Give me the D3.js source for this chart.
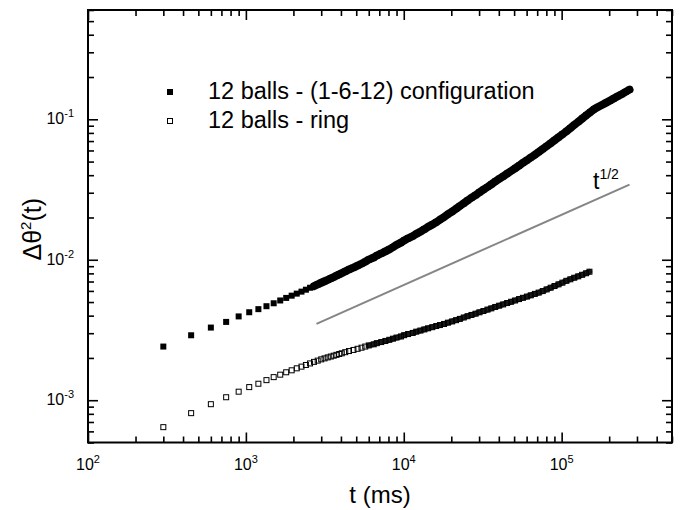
<!DOCTYPE html>
<html>
<head>
<meta charset="utf-8">
<script src="https://cdn.jsdelivr.net/npm/d3@7"></script>
<style>
  body { margin: 0; background: #fff; }
  text { font-family: "Liberation Sans", Arial, Helvetica, sans-serif; fill: #000; }
</style>
</head>
<body>
<div id="chart"></div>
<script>
// 12 balls - (1-6-12) configuration (filled squares)
const tFilled = [300, 450, 600, 750, 900, 1050, 1200, 1350, 1500, 1650,
  1800, 1950, 2100, 2250, 2400, 2550, 2700, 2850, 3000, 3150, 3300, 3450, 3600, 3750, 3900, 4050,
  4260, 4500, 4800, 5100, 5400, 5700, 6000, 6450, 6750, 7200, 7650, 8100, 8550, 9000, 9600,
  10050, 10650, 11400, 12000, 12750, 13500, 14250, 15150, 16050, 16950, 18000, 19050, 20250,
  21450, 22650, 24000, 25350, 26850, 28500, 30150, 31950, 33900, 35850, 37950, 40200, 42600,
  45150, 47850, 50700, 53700, 56850, 60300, 63750, 67650, 71550, 75900, 80400, 85200, 90150,
  95550, 101100, 107100, 113550, 120150, 127350, 134850, 142950, 151350, 160350, 169800,
  179850, 190500, 201900, 213750, 226500, 239850, 254100, 269100];
const vFilled = [0.00241, 0.00290, 0.00329, 0.00361, 0.00395, 0.00423, 0.00445, 0.00467, 0.00490, 0.00513,
  0.00535, 0.00555, 0.00574, 0.00593, 0.00612, 0.00632, 0.00650, 0.00668, 0.00686, 0.00703, 0.00719, 0.00736, 0.00753, 0.00770, 0.00787, 0.00804,
  0.00826, 0.00853, 0.00879, 0.00908, 0.00937, 0.00968, 0.01002, 0.01037, 0.01072, 0.01109, 0.01148, 0.01186, 0.01230, 0.01276, 0.01324,
  0.01372, 0.01422, 0.01473, 0.01528, 0.01585, 0.01648, 0.01714, 0.01778, 0.01849, 0.01928, 0.02014, 0.02109, 0.02203,
  0.02307, 0.02415, 0.02523, 0.02642, 0.02761, 0.02884, 0.03020, 0.03155, 0.03296, 0.03443, 0.03606, 0.03767, 0.03926,
  0.04102, 0.04285, 0.04477, 0.04677, 0.04898, 0.05117, 0.05346, 0.05585, 0.05848, 0.06138, 0.06442, 0.06761, 0.07096,
  0.07447, 0.07816, 0.08204, 0.0865, 0.0912, 0.0959, 0.1012, 0.1067, 0.1122, 0.1178, 0.1222,
  0.1265, 0.1309, 0.1355, 0.1406, 0.1459, 0.1510, 0.1567, 0.1626];

// 12 balls - ring (open squares)
const tOpen = [300, 450, 600, 750, 900, 1050, 1200, 1350, 1500, 1650,
  1800, 1950, 2100, 2250, 2400, 2550, 2700, 2850, 3000, 3150, 3300, 3450, 3600, 3750, 3900, 4050,
  4260, 4500, 4800, 5100, 5400, 5700, 6000, 6450, 6750, 7200, 7650, 8100, 8550, 9000, 9600,
  10050, 10650, 11400, 12000, 12750, 13500, 14250, 15150, 16050, 16950, 18000, 19050, 20250,
  21450, 22650, 24000, 25350, 26850, 28500, 30150, 31950, 33900, 35850, 37950, 40200, 42600,
  45150, 47850, 50700, 53700, 56850, 60300, 63750, 67650, 71550, 75900, 80400, 85200, 90150,
  95550, 101100, 107100, 113550, 120150, 127350, 134850, 142950, 150000];
const vOpen = [0.000643, 0.000809, 0.000937, 0.00105, 0.00115, 0.00124, 0.00131, 0.00139, 0.00146, 0.00152,
  0.001581, 0.001633, 0.001687, 0.001734, 0.001782, 0.001828, 0.001875, 0.001914, 0.001954, 0.001986, 0.002018, 0.002046, 0.002075, 0.002104, 0.002133, 0.002158,
  0.002198, 0.002239, 0.002280, 0.002323, 0.002366, 0.002410, 0.002455, 0.002500, 0.002547, 0.002594, 0.002642, 0.002692, 0.002742, 0.002793, 0.002844,
  0.002904, 0.002958, 0.003013, 0.003076, 0.003133, 0.003192, 0.003251, 0.003311, 0.003373, 0.003428, 0.003491, 0.003565, 0.003639,
  0.003715, 0.003793, 0.003882, 0.003963, 0.004046, 0.004130, 0.004227, 0.004315, 0.004416, 0.004508, 0.004613, 0.004710, 0.004809,
  0.004920, 0.005023, 0.005129, 0.005248, 0.005358, 0.005470, 0.005585, 0.005715, 0.005834, 0.005984, 0.006152, 0.006324, 0.006501,
  0.006683, 0.006871, 0.007079, 0.007261, 0.007447, 0.007621, 0.007816, 0.008017, 0.00822];

// t^1/2 guide line
const tGuide = [2800, 269000];
const vGuide = [0.0035, 0.0343];

const legendLabels = ["12 balls - (1-6-12) configuration", "12 balls - ring"];
const xMajor = [1e2, 1e3, 1e4, 1e5];
const yMajor = [1e-3, 1e-2, 1e-1];

const width = 681;
const height = 510;
const pLeft = 88, pRight = 672, pTop = 10, pBottom = 442.5;

const svg = d3.select("#chart").append("svg")
  .attr("width", width)
  .attr("height", height);

svg.append("rect").attr("width", width).attr("height", height).attr("fill", "#fff");

const x = d3.scaleLog().domain([100, 5e5]).range([pLeft, pRight]);
const y = d3.scaleLog().domain([5e-4, 0.6]).range([pBottom, pTop]);

const xTicks = x.ticks();
const yTicks = y.ticks();
const isMajor = d => Math.abs(Math.log10(d) - Math.round(Math.log10(d))) < 1e-6;

function styleAxis(g) {
  g.select(".domain").remove();
  g.selectAll(".tick line").attr("stroke", "#000").attr("stroke-width", 1.6);
  g.selectAll(".tick text").remove();
}

// four sides, ticks pointing inward; majors longer
const axes = [
  { gen: d3.axisBottom(x).tickValues(xTicks), pos: `translate(0,${pBottom})`, sign: -1, dim: "y2" },
  { gen: d3.axisTop(x).tickValues(xTicks), pos: `translate(0,${pTop})`, sign: 1, dim: "y2" },
  { gen: d3.axisLeft(y).tickValues(yTicks), pos: `translate(${pLeft},0)`, sign: 1, dim: "x2" },
  { gen: d3.axisRight(y).tickValues(yTicks), pos: `translate(${pRight},0)`, sign: -1, dim: "x2" }
];
axes.forEach(a => {
  const g = svg.append("g").attr("transform", a.pos)
    .call(a.gen.tickSizeOuter(0).tickSizeInner(-6));
  styleAxis(g);
  g.selectAll(".tick line").filter(d => isMajor(d)).attr(a.dim, a.sign * 10);
});

svg.append("rect")
  .attr("x", pLeft).attr("y", pTop)
  .attr("width", pRight - pLeft).attr("height", pBottom - pTop)
  .attr("fill", "none").attr("stroke", "#000").attr("stroke-width", 2);

// tick labels 10^n
svg.selectAll(".xlab").data(xMajor).enter().append("text")
  .attr("class", "xlab")
  .attr("x", d => x(d))
  .attr("y", pBottom + 27)
  .attr("text-anchor", "middle")
  .attr("font-size", 16)
  .each(function (d) {
    const t = d3.select(this);
    t.append("tspan").text("10");
    t.append("tspan").attr("dy", -7).attr("font-size", 11).text(Math.round(Math.log10(d)));
  });

svg.selectAll(".ylab").data(yMajor).enter().append("text")
  .attr("class", "ylab")
  .attr("x", pLeft - 14)
  .attr("y", d => y(d) + 5)
  .attr("text-anchor", "end")
  .attr("font-size", 16)
  .each(function (d) {
    const t = d3.select(this);
    t.append("tspan").text("10");
    t.append("tspan").attr("dy", -7).attr("font-size", 11).text(String(Math.round(Math.log10(d))));
  });

// axis titles
svg.append("text")
  .attr("x", (pLeft + pRight) / 2).attr("y", 503)
  .attr("text-anchor", "middle").attr("font-size", 24)
  .text("t (ms)");

const yt = svg.append("text")
  .attr("transform", `translate(41,${(pTop + pBottom) / 2 + 3}) rotate(-90)`)
  .attr("text-anchor", "middle").attr("font-size", 25);
yt.append("tspan").text("Δθ");
yt.append("tspan").attr("dy", -10).attr("font-size", 15).text("2");
yt.append("tspan").attr("dy", 10).text("(t)");

// guide line
const line = d3.line().x(d => x(d[0])).y(d => y(d[1]));
svg.append("path")
  .datum(d3.zip(tGuide, vGuide))
  .attr("d", line)
  .attr("fill", "none").attr("stroke", "#858585").attr("stroke-width", 2);

const gl = svg.append("text").attr("x", 593).attr("y", 189).attr("font-size", 23);
gl.append("tspan").text("t");
gl.append("tspan").attr("dy", -10).attr("font-size", 14).text("1/2");

// markers; where the measured points crowd together they merge into a band
const sq = 6;
const openPts = d3.zip(tOpen, vOpen);
const filledPts = d3.zip(tFilled, vFilled);

svg.append("path")
  .datum(openPts.filter(d => d[0] >= 6000))
  .attr("d", line)
  .attr("fill", "none").attr("stroke", "#1a1a1a").attr("stroke-width", 5.5)
  .attr("stroke-linejoin", "round").attr("stroke-linecap", "round");

svg.append("g").selectAll("rect").data(openPts).enter().append("rect")
  .attr("x", d => x(d[0]) - sq / 2 + 0.5)
  .attr("y", d => y(d[1]) - sq / 2 + 0.5)
  .attr("width", sq - 1).attr("height", sq - 1)
  .attr("fill", "none").attr("stroke", "#000").attr("stroke-width", 1);

svg.append("path")
  .datum(filledPts.filter(d => d[0] >= 2700))
  .attr("d", line)
  .attr("fill", "none").attr("stroke", "#000").attr("stroke-width", 8)
  .attr("stroke-linejoin", "round").attr("stroke-linecap", "round");

svg.append("g").selectAll("rect").data(filledPts).enter().append("rect")
  .attr("x", d => x(d[0]) - sq / 2)
  .attr("y", d => y(d[1]) - sq / 2)
  .attr("width", sq).attr("height", sq)
  .attr("fill", "#000");

// legend
const legend = svg.append("g");
legendLabels.forEach((lab, i) => {
  const cy = 92 + i * 29;
  if (i === 0) {
    legend.append("rect").attr("x", 170 - sq / 2).attr("y", cy - sq / 2)
      .attr("width", sq).attr("height", sq).attr("fill", "#000");
  } else {
    legend.append("rect").attr("x", 170 - sq / 2 + 0.5).attr("y", cy - sq / 2 + 0.5)
      .attr("width", sq - 1).attr("height", sq - 1)
      .attr("fill", "#fff").attr("stroke", "#000").attr("stroke-width", 1);
  }
  legend.append("text").attr("x", 208).attr("y", cy + 7)
    .attr("font-size", 23.5).text(lab);
});
</script>
</body>
</html>
